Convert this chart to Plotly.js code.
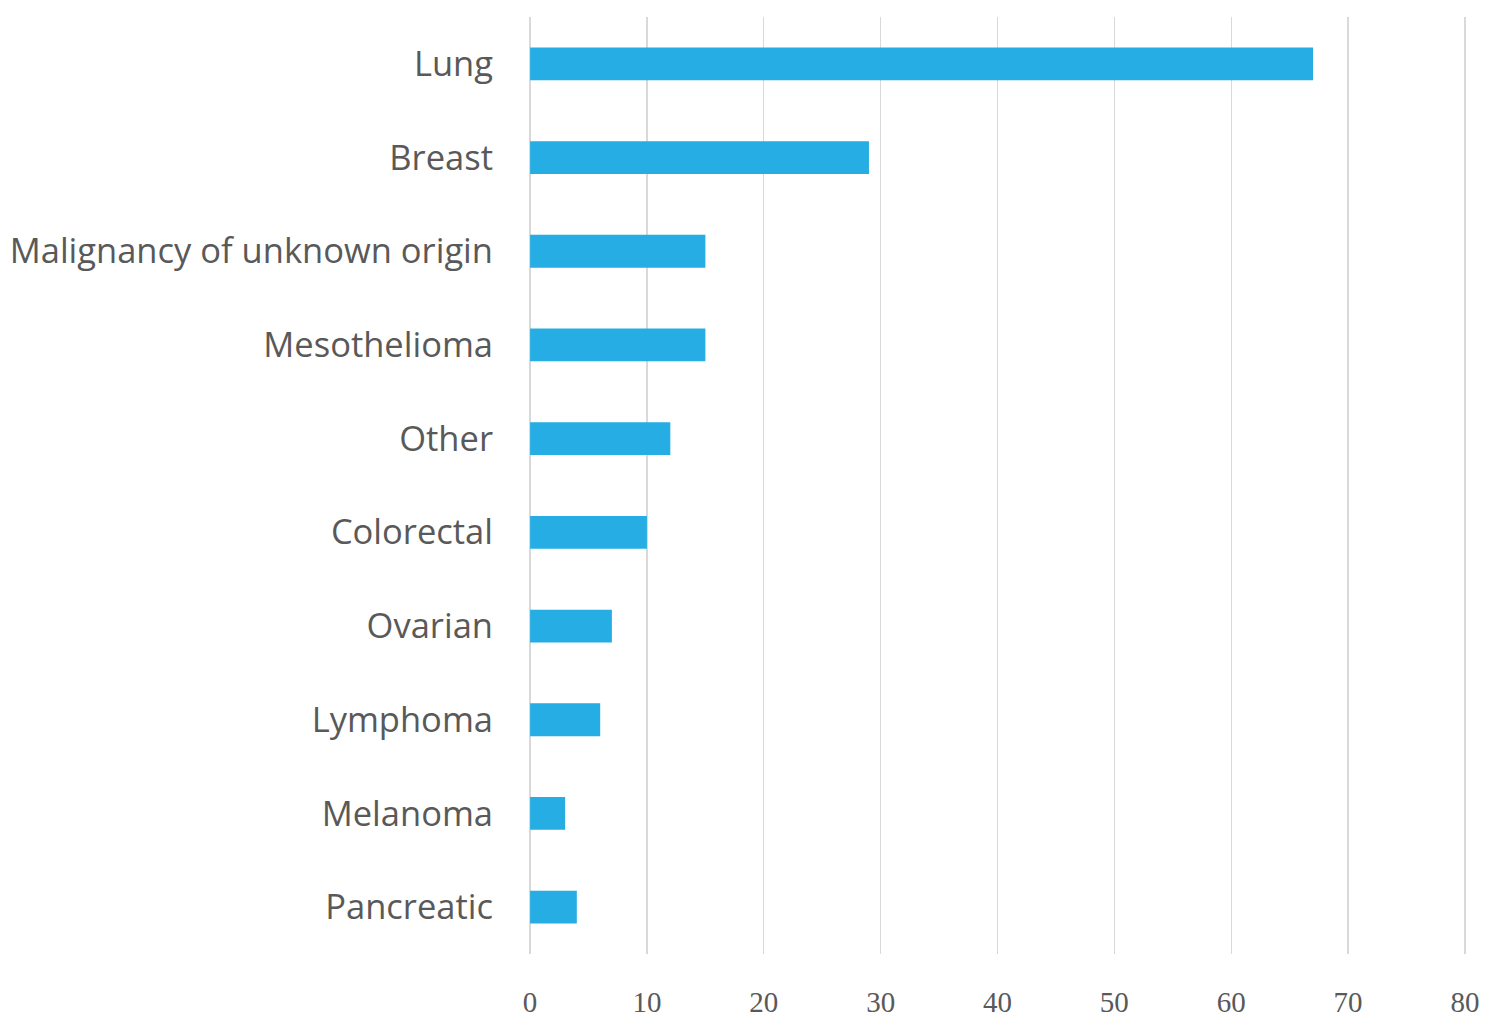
<!DOCTYPE html>
<html>
<head>
<meta charset="utf-8">
<script src="https://cdn.plot.ly/plotly-3.0.1.min.js"></script>
<style>
  html, body { margin: 0; padding: 0; background: #fff; }
  #chart { width: 1500px; height: 1029px; }
</style>
</head>
<body>
<div id="chart"></div>
<script>
// cancer types, top to bottom
const categories = [
    'Lung', 'Breast', 'Malignancy of unknown origin', 'Mesothelioma', 'Other',
    'Colorectal', 'Ovarian', 'Lymphoma', 'Melanoma', 'Pancreatic'
];
const counts = [67, 29, 15, 15, 12, 10, 7, 6, 3, 4];
const xTicks = [0, 10, 20, 30, 40, 50, 60, 70, 80];

const trace = {
    type: 'bar',
    orientation: 'h',
    x: counts,
    y: categories,
    width: 0.35,
    marker: { color: '#26ade3' },
    hoverinfo: 'x+y'
};

const layout = {
    width: 1500,
    height: 1029,
    paper_bgcolor: '#ffffff',
    plot_bgcolor: '#ffffff',
    showlegend: false,
    // a little slack on both ends so the 0 and 80 grid lines get drawn
    margin: { l: 526, r: 31, t: 17, b: 75 },
    xaxis: {
        range: [-0.35, 80.35],
        tickvals: xTicks,
        showgrid: true,
        gridcolor: '#d9d9d9',
        gridwidth: 1.3,
        zeroline: true,
        zerolinecolor: '#d9d9d9',
        zerolinewidth: 1.3,
        showline: false,
        ticks: '',
        ticklabelstandoff: 28,
        tickfont: { family: 'Liberation Serif, serif', size: 29, color: '#595959' }
    },
    yaxis: {
        autorange: 'reversed',
        type: 'category',
        showgrid: false,
        zeroline: false,
        showline: false,
        ticks: '',
        ticklabelstandoff: 32,
        tickfont: { family: 'Open Sans, sans-serif', size: 34.5, color: '#595959' }
    }
};

Plotly.newPlot('chart', [trace], layout, { displayModeBar: false, staticPlot: true });
</script>
</body>
</html>
